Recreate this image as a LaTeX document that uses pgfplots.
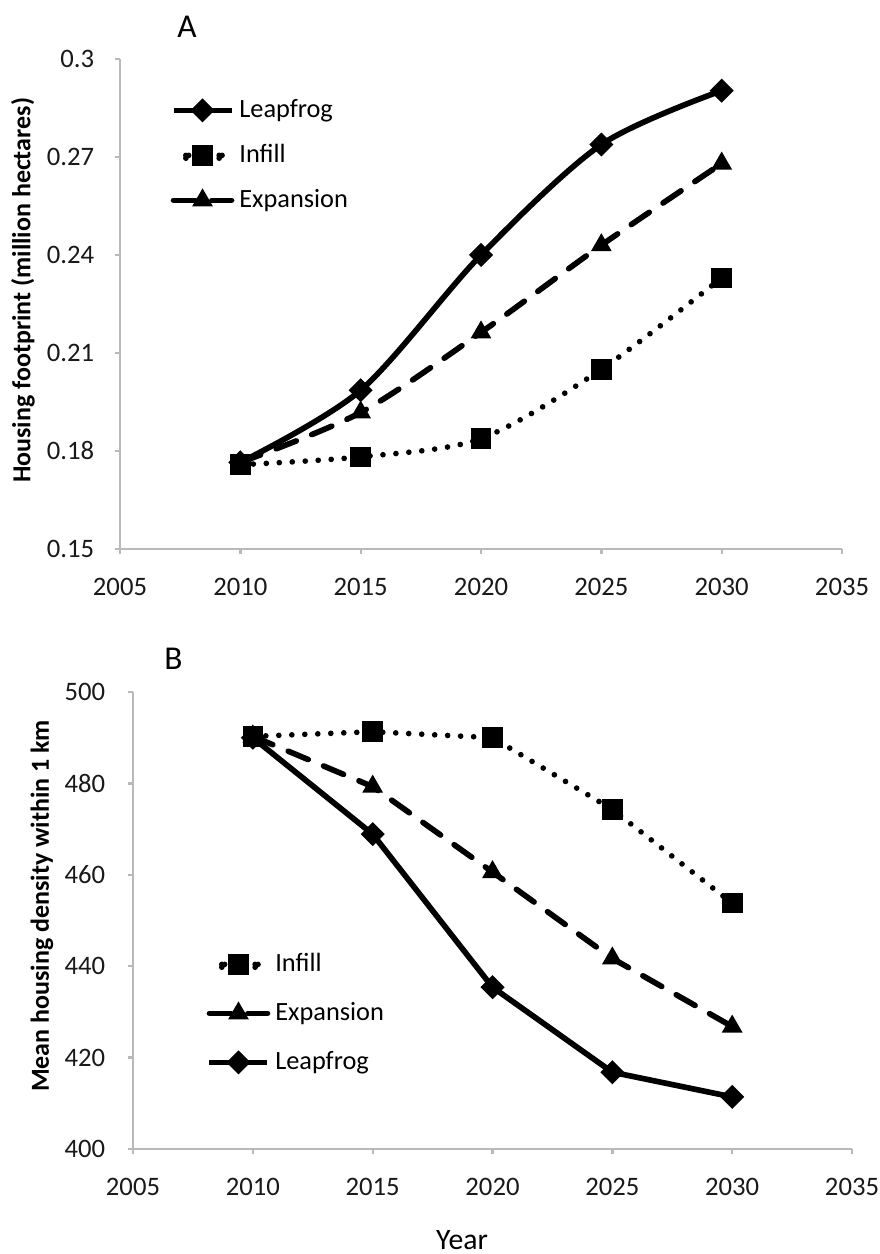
\documentclass[border=0pt]{standalone}
\usepackage{pgfplots}
\pgfplotsset{compat=1.18}
\usepackage{fontspec}
\setmainfont{Carlito}

% shared look of both panels (Excel style: left/bottom axes, outside ticks)
\pgfplotsset{
  panel/.style={
    scale only axis,
    axis x line=bottom, axis y line=left,
    axis line style={-, gray!55, line width=0.7pt},
    tick align=outside, major tick length=1.6pt,
    tick style={gray!55, line width=0.7pt},
    xmin=2005, xmax=2035, xtick={2005,2010,...,2035},
    /pgf/number format/1000 sep={},
    /pgf/number format/assume math mode=true,
    tick label style={font=\fontsize{8}{9}\selectfont, text=black!90},
    xticklabel style={yshift=-3.7pt},
    ylabel style={font=\bfseries\fontsize{7.8}{9}\selectfont, anchor=center},
    legend cell align=left,
    legend style={draw=none, fill=none, inner sep=0pt, column sep=1.5pt,
      font=\fontsize{7.9}{9}\selectfont,
      nodes={inner sep=0pt, text height=5.6pt, text depth=1.6pt}},
    legend image code/.code={\draw[mark repeat=2,mark phase=2,#1]
      plot coordinates {(0pt,0pt) (8.7pt,0pt) (17.4pt,0pt)};},
  },
  leap/.style={black, line width=1.7pt, mark=square*, mark size=2.35pt,
    mark options={rotate=45, solid, line width=0.4pt}},
  infill/.style={black, line width=1.7pt, line cap=round,
    dash pattern=on 0pt off 3.9pt, mark=square*, mark size=2.9pt,
    mark options={solid, line width=0.4pt},
    legend image code/.code={
      \fill (3.7pt,0pt) circle[radius=0.85pt] (13.7pt,0pt) circle[radius=0.85pt];
      \draw[##1] plot coordinates {(8.7pt,0pt)};}},
  expan/.style={black, line width=1.7pt, line cap=round,
    dash pattern=on 6.5pt off 5pt, mark=triangle*, mark size=3.2pt,
    mark options={solid, line width=0.4pt}},
}

\begin{document}
\begin{tikzpicture}
\path[use as bounding box] (0,0) rectangle (264pt,-376.2pt);

\node[font=\fontsize{10}{12}\selectfont] at (56.1pt,-8.1pt) {A};
\node[font=\fontsize{10}{12}\selectfont] at (52.0pt,-197.7pt) {B};

% panel A
\begin{axis}[panel,
    at={(36pt,-17.7pt)}, anchor=north west,
    width=216.6pt, height=147pt,
    ymin=0.15, ymax=0.3,
    ytick={0.15,0.18,0.21,0.24,0.27,0.3},
    yticklabel style={xshift=-2.6pt, /pgf/number format/fixed,
      /pgf/number format/precision=2},
    ylabel={Housing footprint (million hectares)},
    ylabel style={at={(axis description cs:-0.1343,0.5276)}},
    legend style={at={(axis description cs:0.0693,0.921)},
      anchor=north west, row sep=6.3pt},
]
\addplot[leap, smooth] coordinates {
  (2010,0.1765) (2015,0.1986) (2020,0.2400) (2025,0.2738) (2030,0.2903)};
\addlegendentry{Leapfrog}
\addplot[infill, smooth] coordinates {
  (2010,0.1758) (2015,0.1782) (2020,0.1838) (2025,0.2050) (2030,0.2330)};
\addlegendentry{Infill}
\addplot[expan, smooth] coordinates {
  (2010,0.1765) (2015,0.1918) (2020,0.2163) (2025,0.2430) (2030,0.2680)};
\addlegendentry{Expansion}
\end{axis}

% panel B
\begin{axis}[panel,
    at={(39.9pt,-207.6pt)}, anchor=north west,
    width=215.7pt, height=137.1pt,
    ymin=400, ymax=500,
    ytick={400,420,...,500},
    yticklabel style={xshift=-3.2pt},
    ylabel={Mean housing density within 1 km},
    ylabel style={at={(axis description cs:-0.1266,0.5317)}},
    xlabel={Year},
    xlabel style={at={(axis description cs:0.4576,-0.199)}, anchor=center,
      font=\fontsize{8.9}{10}\selectfont},
    legend style={at={(axis description cs:0.1015,0.4317)},
      anchor=north west, row sep=7.5pt},
]
\addplot[infill] coordinates {
  (2010,490.3) (2015,491.3) (2020,490.0) (2025,474.3) (2030,453.8)};
\addlegendentry{Infill}
\addplot[expan] coordinates {
  (2010,490.3) (2015,479.3) (2020,460.6) (2025,441.7) (2030,426.8)};
\addlegendentry{Expansion}
\addplot[leap] coordinates {
  (2010,490.0) (2015,468.9) (2020,435.4) (2025,416.8) (2030,411.4)};
\addlegendentry{Leapfrog}
\end{axis}
\end{tikzpicture}
\end{document}
